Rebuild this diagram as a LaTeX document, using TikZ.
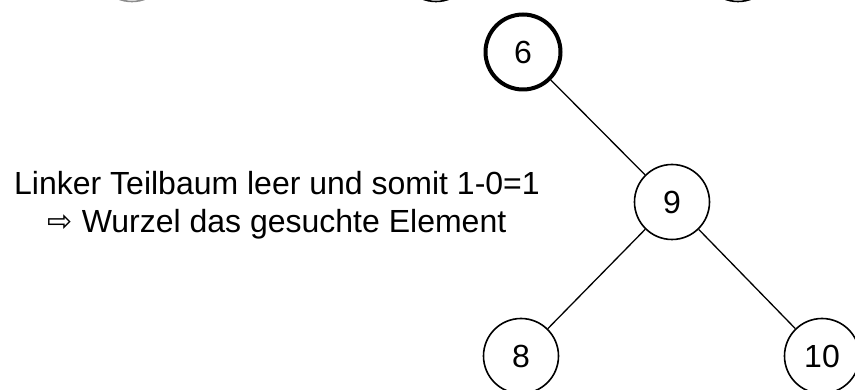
\documentclass[tikz,border=0pt]{standalone}
\usepackage{fontspec}
\setmainfont{Liberation Sans}
\newfontfamily\arrowfont{DejaVu Sans}
\usepackage{tikz}
\tikzset{k/.style={draw,circle,minimum size=75pt,inner sep=0pt,line width=1.6pt,font=\fontsize{32}{32}\selectfont}}
\tikzset{kk/.style={k,line width=4pt}}
\tikzset{l/.style={font=\fontsize{32}{38}\selectfont}}

\begin{document}
\begin{tikzpicture}[x=1pt,y=-1pt,line join=round]
  \useasboundingbox (0,0) rectangle (855,390);
  \clip (0,0) rectangle (855,390);
  % row above, only the lower rims show
  \node[k,draw=black!45] (o1) at (132,-36) {};
  \node[k] (o2) at (436,-36) {};
  \node[k] (o3) at (738,-36) {};
  % subtree
  \node[kk] (R) at (523,52) {6};
  \node[k] (A) at (672,202) {9}
    edge [line width=1.3pt] (R);
  \node[k] (B) at (521,356) {8}
    edge [line width=1.3pt] (A);
  \node[k] (C) at (822,356) {10}
    edge [line width=1.3pt] (A);
  \node[l,anchor=base] (t1) at (277,195) {Linker Teilbaum leer und somit 1-0=1};
  \node[l,anchor=base] (t2) at (277,233) {\raisebox{1pt}{\fontsize{30}{30}\arrowfont ⇨} Wurzel das gesuchte Element};
\end{tikzpicture}
\end{document}
